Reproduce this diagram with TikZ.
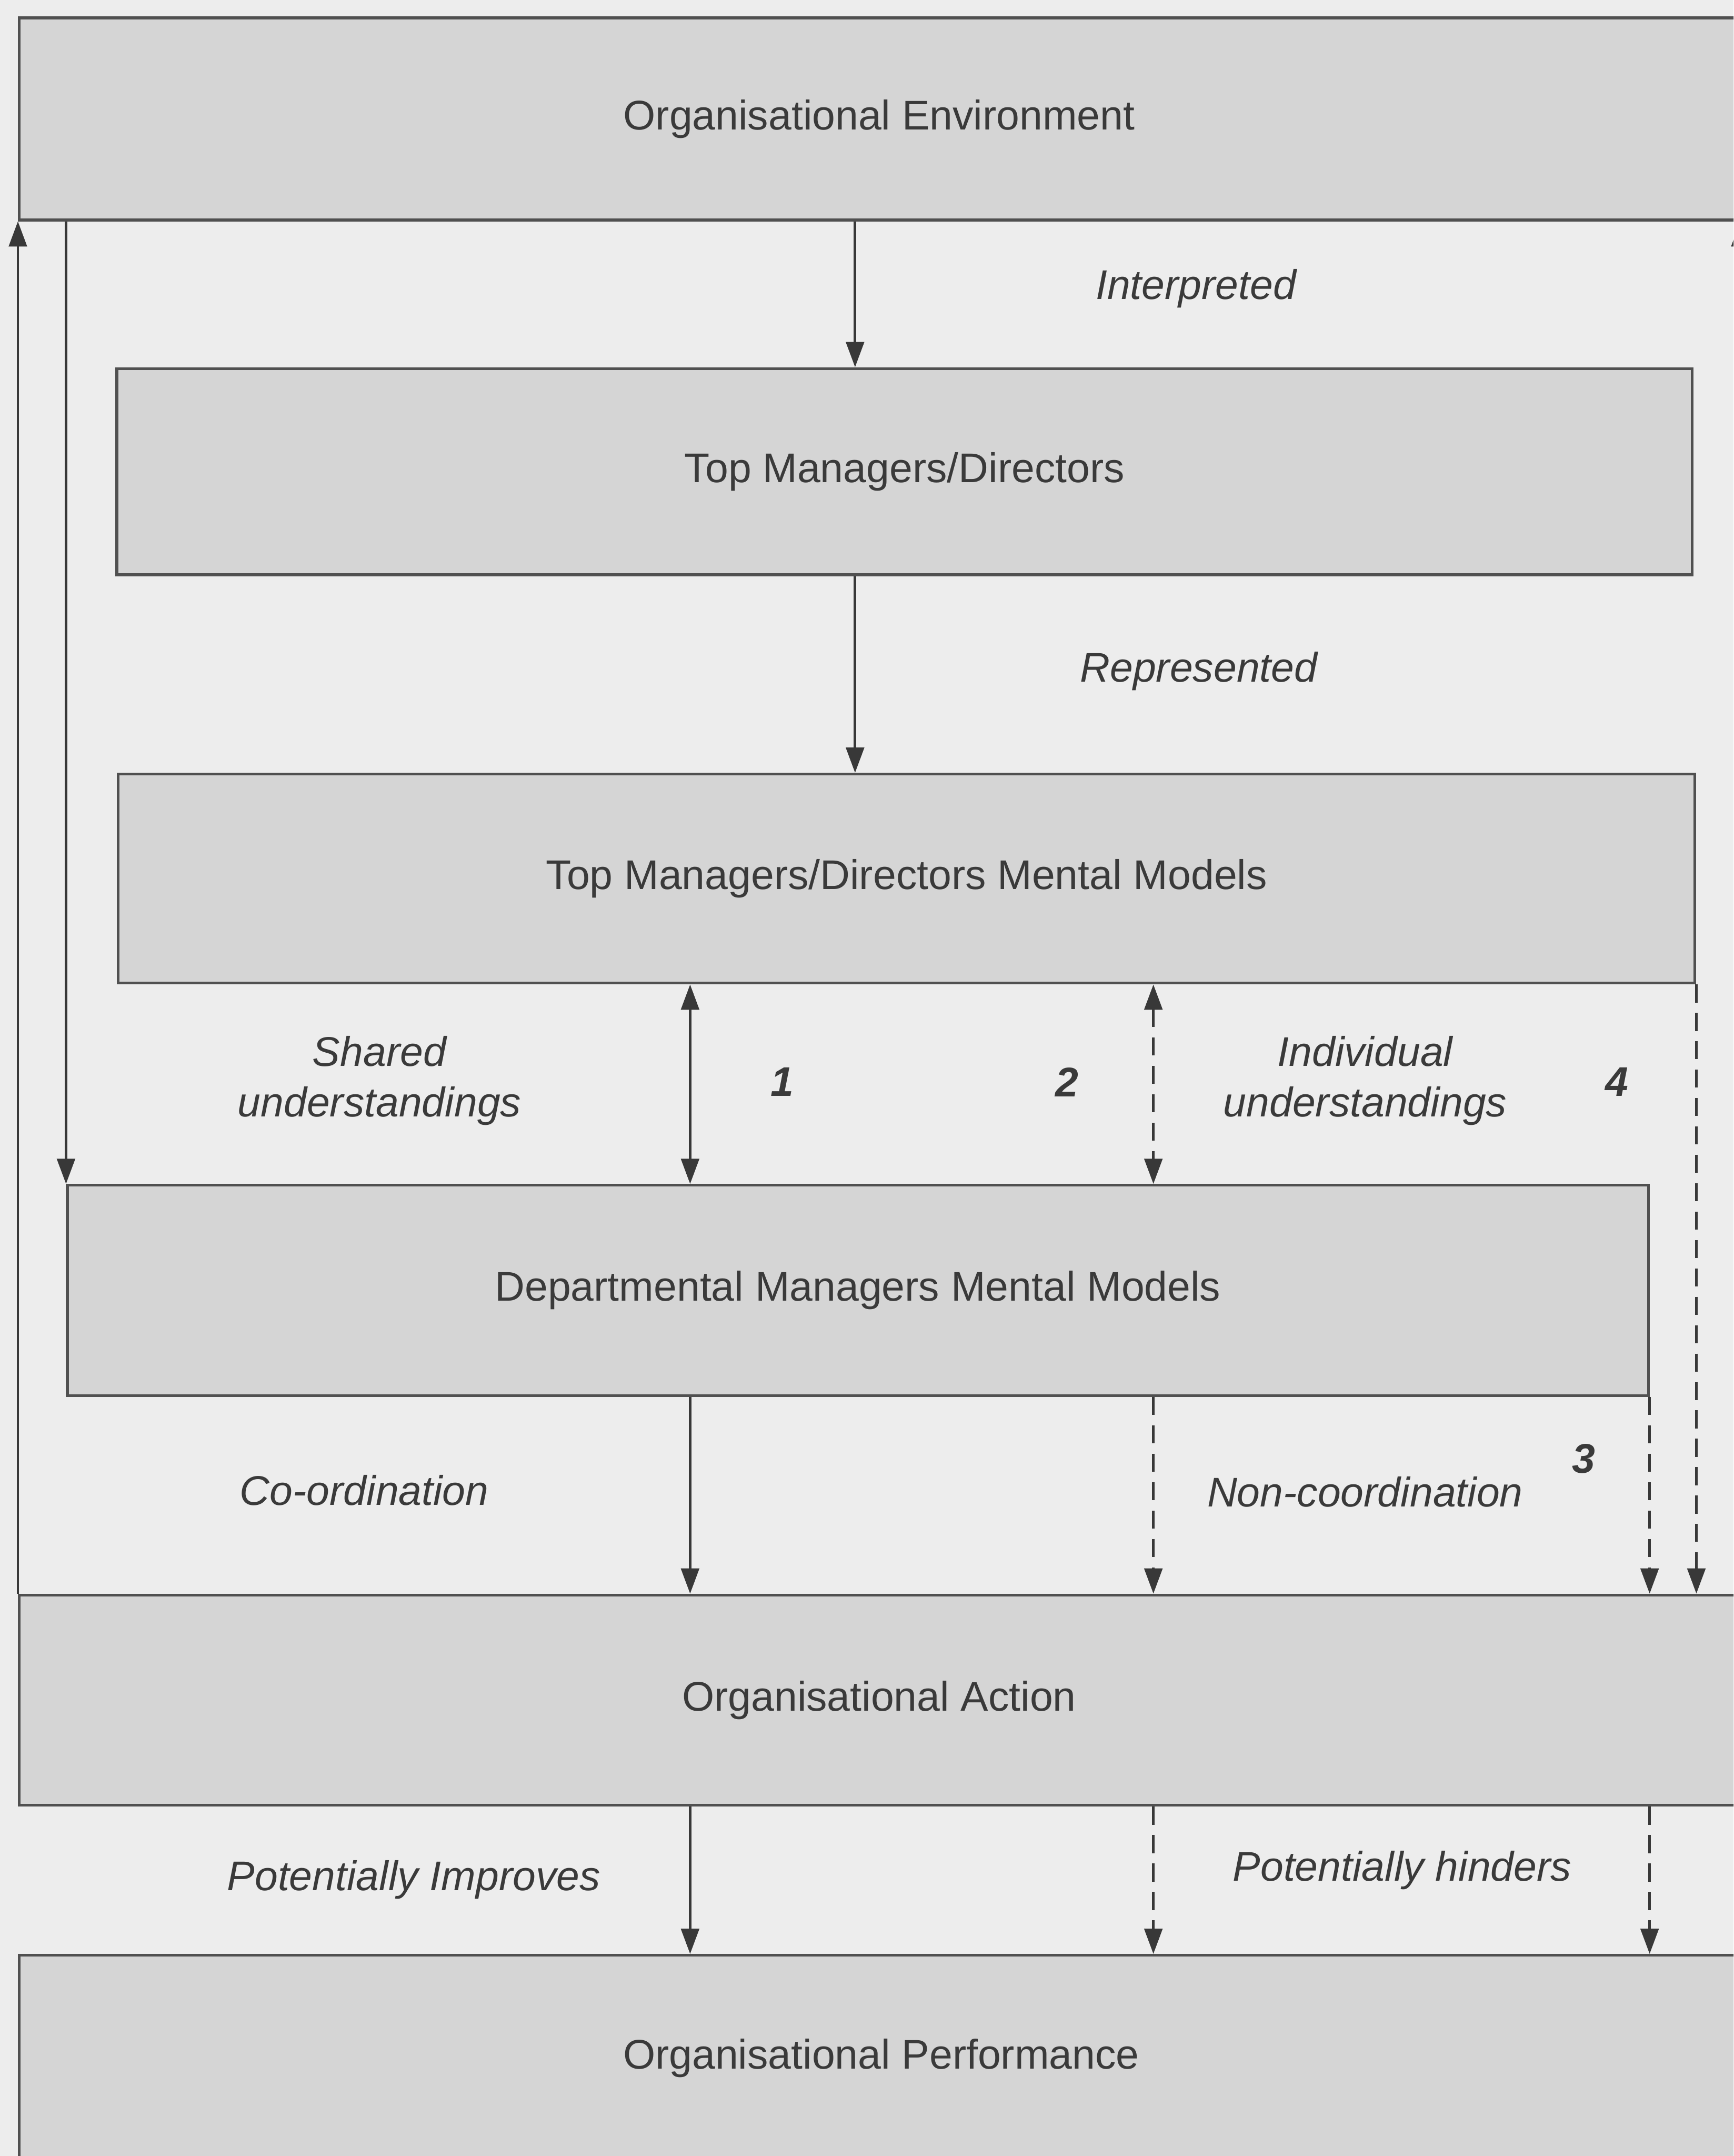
\documentclass[tikz,border=0pt]{standalone}
\usepackage{fontspec}
\setmainfont{Liberation Sans}
\usetikzlibrary{arrows.meta}
\definecolor{bgc}{HTML}{EDEDED}
\definecolor{boxc}{HTML}{D5D5D5}
\definecolor{edgec}{HTML}{505050}
\definecolor{linec}{HTML}{383838}
\definecolor{txtc}{HTML}{3A3A3A}
\tikzset{
  box/.style={draw=edgec, fill=boxc, line width=0.6pt, rectangle, inner sep=0pt,
    text=txtc, font=\fontsize{9.2}{11.3}\selectfont},
  arr/.style={draw=linec, line width=0.55pt, -{Triangle[width=4pt,length=5.6pt]}},
  biarr/.style={draw=linec, line width=0.55pt, {Triangle[width=4pt,length=5.6pt]}-{Triangle[width=4pt,length=5.6pt]}},
  dsh/.style={dash pattern=on 4pt off 2.3pt},
  lbl/.style={text=txtc, font=\fontsize{9.2}{11.3}\selectfont\itshape, align=center, inner sep=0pt},
  num/.style={text=txtc, font=\fontsize{9.2}{11.3}\selectfont\bfseries\itshape, inner sep=0pt}
}
\begin{document}
\begin{tikzpicture}[x=0.3051pt, y=-0.3051pt]
\useasboundingbox (0,0) rectangle (1261,1568);
\clip (0,0) rectangle (1261,1568);
\fill[bgc] (0,0) rectangle (1261,1568);

% boxes
\node[box, minimum width=1251*0.3051pt, minimum height=147*0.3051pt] (env) at (639.5,86.5) {Organisational Environment};
\node[box, minimum width=1146*0.3051pt, minimum height=150*0.3051pt] (tmd) at (658,343) {Top Managers/Directors};
\node[box, minimum width=1147*0.3051pt, minimum height=152*0.3051pt] (tmdmm) at (659.5,639) {Top Managers/Directors Mental Models};
\node[box, minimum width=1150*0.3051pt, minimum height=153*0.3051pt] (dmm) at (624,938.5) {Departmental Managers Mental Models};
\node[box, minimum width=1251*0.3051pt, minimum height=153*0.3051pt] (act) at (639.5,1236.5) {Organisational Action};
\node[box, minimum width=1254*0.3051pt, minimum height=150*0.3051pt] (perf) at (641,1497) {Organisational Performance};

% column coordinates
\coordinate (cA) at (502,0);
\coordinate (cB) at (839,0);
\coordinate (cC) at (622,0);

% connectors
\draw[arr] (env.south -| cC) -- (tmd.north -| cC);
\draw[arr] (tmd.south -| cC) -- (tmdmm.north -| cC);
\draw[arr] (act.north west) -- (env.south west);
\draw[arr] (act.north east) -- (env.south -| act.east);
\draw[arr] (env.south -| dmm.west) -- (dmm.north west);
\draw[biarr] (tmdmm.south -| cA) -- (dmm.north -| cA);
\draw[biarr, dsh] (tmdmm.south -| cB) -- (dmm.north -| cB);
\draw[arr, dsh] (tmdmm.south east) -- (act.north -| tmdmm.east);
\draw[arr] (dmm.south -| cA) -- (act.north -| cA);
\draw[arr, dsh] (dmm.south -| cB) -- (act.north -| cB);
\draw[arr, dsh] (dmm.south east) -- (act.north -| dmm.east);
\draw[arr] (act.south -| cA) -- (perf.north -| cA);
\draw[arr, dsh] (act.south -| cB) -- (perf.north -| cB);
\draw[arr, dsh] (act.south -| dmm.east) -- (perf.north -| dmm.east);

% labels
\node[lbl] (l-int) at (870,210) {Interpreted};
\node[lbl] (l-rep) at (872,488) {Represented};
\node[lbl] (l-sh) at (276,786) {Shared\\understandings};
\node[lbl] (l-ind) at (993,786) {Individual\\understandings};
\node[num] (n1) at (569,787) {1};
\node[num] (n2) at (776,787) {2};
\node[num] (n4) at (1176,787) {4};
\node[num] (n3) at (1152,1061) {3};
\node[lbl] (l-co) at (265,1084) {Co-ordination};
\node[lbl] (l-nco) at (993,1085) {Non-coordination};
\node[lbl] (l-pi) at (301,1367) {Potentially Improves};
\node[lbl] (l-ph) at (1020,1360) {Potentially hinders};
\end{tikzpicture}
\end{document}
